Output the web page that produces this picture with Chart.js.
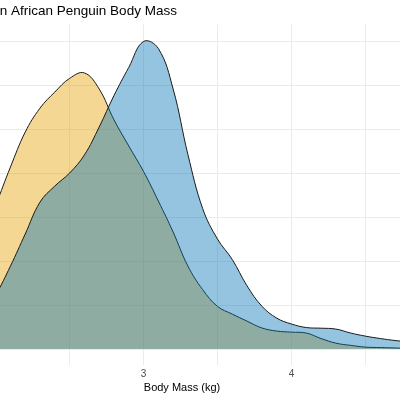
<!DOCTYPE html>
<html lang="en">

<head>
    <meta charset="UTF-8">
    <title>African Penguin Body Mass</title>
    <script src="https://cdn.jsdelivr.net/npm/chart.js"></script>
    <style>
        body {
            margin: 0;
            width: 400px;
            height: 400px;
            overflow: hidden;
            background: #fff;
            position: relative;
        }

        /* the chart is wider than the window: its left and right edges are cut off */
        #wrap {
            position: absolute;
            left: -120px;
            top: 0;
            width: 600px;
            height: 400px;
        }
    </style>
</head>

<body>
    <div id="wrap">
        <canvas id="densityChart" width="600" height="400"></canvas>
    </div>

    <script>
        // body mass (kg) where the densities were read
        const massKg = [1.8, 1.9, 2.0, 2.1, 2.2, 2.3, 2.4, 2.5, 2.6, 2.7, 2.8, 2.9, 3.0, 3.1, 3.2, 3.3, 3.4,
            3.5, 3.6, 3.7, 3.8, 3.9, 4.0, 4.1, 4.2, 4.3, 4.4, 4.5, 4.6, 4.7, 4.8, 4.9, 5.0];

        // orange curve
        const femaleDensity = [0.37, 0.505, 0.655, 0.827, 0.986, 1.095, 1.168, 1.23, 1.255, 1.182, 1.042, 0.923,
            0.807, 0.673, 0.532, 0.377, 0.27, 0.194, 0.159, 0.127, 0.096, 0.082, 0.077, 0.073, 0.048, 0.027,
            0.017, 0.009, 0.007, 0.005, 0.003, 0.002, 0.001];

        // blue curve
        const maleDensity = [0.064, 0.141, 0.245, 0.377, 0.523, 0.668, 0.741, 0.80, 0.882, 1.009, 1.152, 1.28,
            1.398, 1.366, 1.182, 0.884, 0.638, 0.50, 0.407, 0.287, 0.195, 0.141, 0.114, 0.098, 0.095, 0.091,
            0.073, 0.059, 0.048, 0.039, 0.032, 0.023, 0.014];

        const toPoints = (ys) => massKg.map((x, i) => ({ x: x, y: ys[i] }));

        const ctx = document.getElementById('densityChart').getContext('2d');
        const gridColor = '#ebebeb';

        new Chart(ctx, {
            type: 'line',
            data: {
                datasets: [{
                    label: 'Female',
                    data: toPoints(femaleDensity),
                    backgroundColor: 'rgba(230, 159, 0, 0.42)',
                    borderColor: '#1a1a1a',
                    borderWidth: 1,
                    fill: 'origin',
                    tension: 0.4,
                    pointRadius: 0,
                    order: 1
                }, {
                    label: 'Male',
                    data: toPoints(maleDensity),
                    backgroundColor: 'rgba(0, 114, 178, 0.42)',
                    borderColor: '#1a1a1a',
                    borderWidth: 1,
                    fill: 'origin',
                    tension: 0.4,
                    pointRadius: 0,
                    order: 0 // drawn on top of the orange one
                }]
            },
            options: {
                responsive: false,
                animation: false,
                devicePixelRatio: 1,
                layout: {
                    padding: { left: 18, right: 14, top: 0, bottom: 0 }
                },
                scales: {
                    x: {
                        type: 'linear',
                        min: 1.34,
                        max: 5.18,
                        border: { display: false },
                        grid: {
                            color: gridColor,
                            lineWidth: 1,
                            drawTicks: false
                        },
                        ticks: {
                            stepSize: 0.5,
                            includeBounds: false,
                            padding: 4,
                            color: '#4d4d4d',
                            font: { family: '"Liberation Sans", Arial, sans-serif', size: 10 },
                            callback: function (value) {
                                return Number.isInteger(value) ? value : ''; // labels only on whole kg
                            }
                        },
                        title: {
                            display: true,
                            text: 'Body Mass (kg)',
                            color: '#000',
                            padding: { top: 0, bottom: 5 },
                            font: { family: '"Liberation Sans", Arial, sans-serif', size: 11 }
                        },
                        afterFit: function (scale) {
                            scale.height = 35.5;
                        }
                    },
                    y: {
                        min: -0.07,
                        max: 1.475,
                        border: { display: false },
                        grid: {
                            color: gridColor,
                            lineWidth: 1,
                            drawTicks: false
                        },
                        ticks: {
                            display: false,
                            stepSize: 0.2,
                            includeBounds: false
                        },
                        afterFit: function (scale) {
                            scale.width = 0;
                        }
                    }
                },
                plugins: {
                    legend: { display: false },
                    tooltip: { enabled: false },
                    title: {
                        display: true,
                        text: 'Sex Differences in African Penguin Body Mass',
                        align: 'start',
                        color: '#000',
                        padding: { top: 3, bottom: 5.3 },
                        font: { family: '"Liberation Sans", Arial, sans-serif', size: 13.5, weight: 'normal' }
                    }
                }
            }
        });
    </script>
</body>

</html>
